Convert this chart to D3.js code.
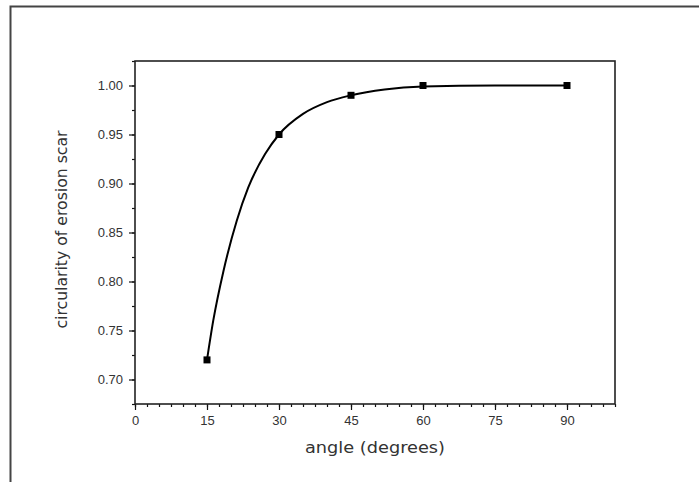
<!DOCTYPE html>
<html>
<head>
<meta charset="utf-8">
<script src="https://cdn.jsdelivr.net/npm/d3@7"></script>
<style>
	body { margin: 0; background: #fff; }
	svg { display: block; font-family: 'DejaVu Sans', Verdana, sans-serif; }
</style>
</head>
<body>
<svg id="chart" width="699" height="482"></svg>
<script>
const angles = [15, 30, 45, 60, 90];
const circularity = [0.72, 0.95, 0.99, 1.00, 1.00];
// fitted curve
const fitAngles = [15, 16.3, 18.4, 21.2, 23.6, 27.1, 30, 35, 40, 45, 52, 60, 75, 90];
const fitCircularity = [0.72, 0.76, 0.81, 0.862, 0.896, 0.93, 0.95, 0.971, 0.983, 0.99, 0.996, 0.999, 1.0, 1.0];
const xTicks = [0, 15, 30, 45, 60, 75, 90];
const yTicks = [0.70, 0.75, 0.80, 0.85, 0.90, 0.95, 1.00];
const xLabel = 'angle (degrees)';
const yLabel = 'circularity of erosion scar';

const svg = d3.select('#chart'),
	margin = {top: 61, right: 84, bottom: 78, left: 135},
	width = 699 - margin.left - margin.right,
	height = 482 - margin.top - margin.bottom;

// outer frame (only top and left edges show in the crop)
svg.append('path')
	.attr('d', 'M10.5,482V6.5H699')
	.attr('fill', 'none')
	.attr('stroke', '#444')
	.attr('stroke-width', 2);

const x = d3.scaleLinear().domain([0, 100]).range([0, width]),
	y = d3.scaleLinear().domain([0.675, 1.025]).range([height, 0]);

const g = svg.append('g').attr('transform', `translate(${margin.left},${margin.top})`);

const minor = (lo, hi, step) => d3.range(lo, hi + step / 2, step).map(v => +v.toFixed(4));

// minor ticks
g.append('g')
	.attr('transform', `translate(0,${height})`)
	.call(d3.axisBottom(x).tickValues(minor(0, 100, 2.5)).tickSize(3).tickFormat(''))
	.call(a => a.select('.domain').remove());
g.append('g')
	.call(d3.axisLeft(y).tickValues(minor(0.675, 1.025, 0.025)).tickSize(3).tickFormat(''))
	.call(a => a.select('.domain').remove());

// major ticks
const xAxis = g.append('g')
	.attr('transform', `translate(0,${height})`)
	.call(d3.axisBottom(x).tickValues(xTicks).tickSize(6).tickPadding(6).tickFormat(d3.format('d')));
const yAxis = g.append('g')
	.call(d3.axisLeft(y).tickValues(yTicks).tickSize(6).tickPadding(6).tickFormat(d3.format('.2f')));

[xAxis, yAxis].forEach(a => {
	a.selectAll('text').attr('font-size', 13).attr('fill', '#333');
	a.select('.domain').remove();
});
g.selectAll('.tick line').attr('stroke', '#111').attr('stroke-width', 1.2);

// box
g.append('rect')
	.attr('width', width)
	.attr('height', height)
	.attr('fill', 'none')
	.attr('stroke', '#222')
	.attr('stroke-width', 1.6);

const fit = fitAngles.map((a, i) => [a, fitCircularity[i]]),
	pts = angles.map((a, i) => [a, circularity[i]]);

g.append('path')
	.datum(fit)
	.attr('fill', 'none')
	.attr('stroke', '#000')
	.attr('stroke-width', 2)
	.attr('d', d3.line().x(d => x(d[0])).y(d => y(d[1])).curve(d3.curveMonotoneX));

g.selectAll('rect.pt')
	.data(pts)
	.enter()
	.append('rect')
	.attr('class', 'pt')
	.attr('x', d => x(d[0]) - 3.5)
	.attr('y', d => y(d[1]) - 3.5)
	.attr('width', 7)
	.attr('height', 7)
	.attr('fill', '#000');

g.append('text')
	.attr('x', width / 2)
	.attr('y', height + 49)
	.attr('text-anchor', 'middle')
	.attr('font-size', 15)
	.attr('textLength', 140)
	.attr('lengthAdjust', 'spacingAndGlyphs')
	.attr('fill', '#333')
	.text(xLabel);

g.append('text')
	.attr('transform', `translate(-68,${height / 2 - 3}) rotate(-90)`)
	.attr('text-anchor', 'middle')
	.attr('font-size', 15)
	.attr('textLength', 198)
	.attr('lengthAdjust', 'spacingAndGlyphs')
	.attr('fill', '#333')
	.text(yLabel);
</script>
</body>
</html>
